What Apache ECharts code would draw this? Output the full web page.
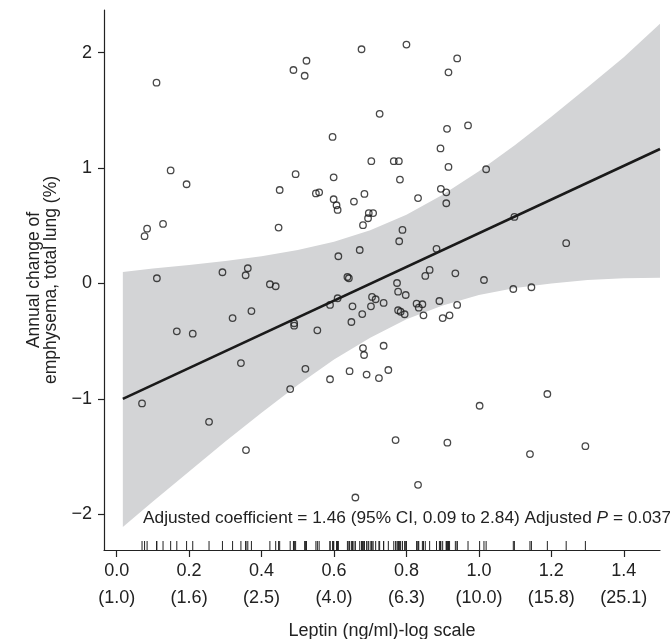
<!DOCTYPE html>
<html><head><meta charset="utf-8">
<script src="https://cdn.jsdelivr.net/npm/echarts@6/dist/echarts.min.js"></script>
<style>html,body{margin:0;padding:0;background:#fff}#c{width:670px;height:639px}</style>
</head><body><div id="c"></div>
<script>
// Scatter data: log10 leptin (x) and annual change of emphysema (y)
const leptinLog = [0.11,0.488,0.149,0.193,0.45,0.494,0.524,0.519,0.676,0.80,0.94,0.916,0.726,0.596,0.912,0.97,0.894,0.703,0.765,0.779,0.916,1.02,0.599,0.782,0.55,0.559,0.684,0.599,0.655,0.832,0.895,0.91,0.607,0.61,0.91,0.696,0.708,0.694,0.68,0.789,0.78,0.671,0.883,0.612,0.864,0.852,0.935,1.014,0.637,0.641,0.774,0.777,0.798,0.61,0.589,0.705,0.715,0.651,0.702,0.737,0.828,0.844,0.834,0.891,0.94,0.777,0.784,0.795,0.678,0.847,0.648,0.90,0.919,0.554,0.68,0.683,0.737,0.521,0.643,0.589,0.69,0.724,0.75,0.77,0.913,1.002,0.832,0.659,1.189,1.141,1.294,1.098,1.241,1.095,1.145,0.084,0.077,0.128,0.447,0.111,0.292,0.362,0.356,0.423,0.439,0.32,0.372,0.166,0.21,0.49,0.49,0.343,0.07,0.255,0.479,0.357];
const emphChange = [1.74,1.85,0.98,0.86,0.81,0.947,1.93,1.80,2.03,2.07,1.95,1.83,1.47,1.27,1.34,1.37,1.17,1.06,1.06,1.06,1.01,0.99,0.92,0.90,0.78,0.79,0.776,0.73,0.71,0.74,0.82,0.79,0.678,0.637,0.695,0.61,0.61,0.565,0.505,0.464,0.366,0.29,0.30,0.236,0.117,0.065,0.088,0.03,0.056,0.045,0.004,-0.071,-0.10,-0.128,-0.186,-0.117,-0.137,-0.198,-0.198,-0.169,-0.175,-0.18,-0.21,-0.152,-0.186,-0.232,-0.245,-0.267,-0.265,-0.276,-0.334,-0.30,-0.276,-0.406,-0.56,-0.62,-0.54,-0.74,-0.76,-0.83,-0.79,-0.82,-0.75,-1.357,-1.38,-1.06,-1.745,-1.855,-0.958,-1.479,-1.41,0.577,0.349,-0.048,-0.033,0.475,0.41,0.516,0.484,0.045,0.097,0.132,0.071,-0.007,-0.024,-0.30,-0.239,-0.415,-0.435,-0.345,-0.366,-0.69,-1.04,-1.199,-0.915,-1.444];
// Fitted regression line (endpoints)
const fitX = [0.017, 1.5];
const fitY = [-1.0, 1.165];
// 95% confidence band
const bandX  = [0.017,0.1,0.2,0.3,0.4,0.5,0.6,0.7,0.8,0.9,1.0,1.1,1.2,1.3,1.4,1.5];
const bandLo = [-2.11,-1.89,-1.63,-1.37,-1.12,-0.88,-0.66,-0.47,-0.31,-0.19,-0.10,-0.04,0.0,0.03,0.045,0.05];
const bandHi = [0.10,0.13,0.16,0.195,0.236,0.29,0.362,0.461,0.595,0.768,0.973,1.2,1.445,1.70,1.96,2.25];
// Axis ticks
const xTicks = [0,0.2,0.4,0.6,0.8,1.0,1.2,1.4];
const xTickTop = ['0.0','0.2','0.4','0.6','0.8','1.0','1.2','1.4'];
const xTickBottom = ['(1.0)','(1.6)','(2.5)','(4.0)','(6.3)','(10.0)','(15.8)','(25.1)'];
const yTicks = [-2,-1,0,1,2];

const X_MIN = -0.035, X_MAX = 1.5, Y_MIN = -2.31, Y_MAX = 2.37;
const FONT = 'Liberation Sans, Arial, Helvetica, sans-serif';
const INK = '#222';

const points = leptinLog.map((x,i)=>[x, emphChange[i]]);
const fitData = fitX.map((x,i)=>[x, fitY[i]]);

const chart = echarts.init(document.getElementById('c'), null, {renderer:'canvas'});
chart.setOption({
  animation:false,
  backgroundColor:'#fff',
  title:{
    text:'Adjusted coefficient = 1.46 (95% CI, 0.09 to 2.84) Adjusted {i|P} = 0.037',
    left:138, top:505,
    textStyle:{fontFamily:FONT, fontSize:17.3, fontWeight:'normal', color:INK,
      rich:{i:{fontFamily:FONT, fontSize:17.3, fontStyle:'italic', color:INK}}}
  },
  grid:{left:104, right:10, top:10, bottom:89, containLabel:false, outerBoundsMode:'none'},
  xAxis:{
    type:'value', min:X_MIN, max:X_MAX,
    name:'Leptin (ng/ml)-log scale', nameLocation:'middle', nameGap:72,
    nameTextStyle:{fontFamily:FONT, fontSize:18, color:INK},
    axisLine:{show:true, onZero:false, lineStyle:{color:INK, width:1.2}},
    axisTick:{show:true, length:7, customValues:xTicks, lineStyle:{color:INK, width:1.2}},
    axisLabel:{customValues:xTicks, margin:8, fontFamily:FONT, fontSize:18, color:INK, lineHeight:27,
      formatter:(v)=>{const i = xTicks.findIndex(t=>Math.abs(t-v)<1e-6); return i<0?'':xTickTop[i]+'\n'+xTickBottom[i];}},
    splitLine:{show:false}
  },
  yAxis:{
    type:'value', min:Y_MIN, max:Y_MAX,
    name:'Annual change of\nemphysema, total lung (%)', nameLocation:'middle', nameGap:42, nameRotate:90,
    nameTextStyle:{fontFamily:FONT, fontSize:17.5, color:INK, lineHeight:17.5, align:'center'},
    axisLine:{show:true, onZero:false, lineStyle:{color:INK, width:1.2}},
    axisTick:{show:true, length:6, customValues:yTicks, lineStyle:{color:INK, width:1.2}},
    axisLabel:{customValues:yTicks, margin:12, fontFamily:FONT, fontSize:18, color:INK,
      formatter:(v)=> v<0 ? '\u2212'+Math.abs(v) : String(v)},
    splitLine:{show:false}
  },
  series:[
    {
      type:'custom', z:1, silent:true,
      data:[[bandX[0], bandLo[0]]],
      renderItem:(params, api)=>{
        const pts = [];
        for (let i=0;i<bandX.length;i++) pts.push(api.coord([bandX[i], bandHi[i]]));
        for (let i=bandX.length-1;i>=0;i--) pts.push(api.coord([bandX[i], bandLo[i]]));
        return {type:'polygon', shape:{points:pts, smooth:0}, style:{fill:'#d3d4d6', stroke:null}};
      }
    },
    {
      type:'line', z:3, data:fitData, symbol:'none', silent:true,
      lineStyle:{color:'#1a1a1a', width:2.6}
    },
    {
      type:'scatter', z:4, data:points, symbol:'circle', symbolSize:6.5,
      itemStyle:{color:'rgba(0,0,0,0)', borderColor:'#1a1a1a', borderWidth:1.3}
    },
    {
      type:'custom', z:5, silent:true,
      data:leptinLog.map(x=>[x, Y_MIN]),
      renderItem:(params, api)=>{
        const p = api.coord([api.value(0), api.value(1)]);
        return {type:'line', shape:{x1:p[0], y1:p[1], x2:p[0], y2:p[1]-9}, style:{stroke:INK, lineWidth:1}};
      }
    }
  ]
});
</script>
</body></html>
